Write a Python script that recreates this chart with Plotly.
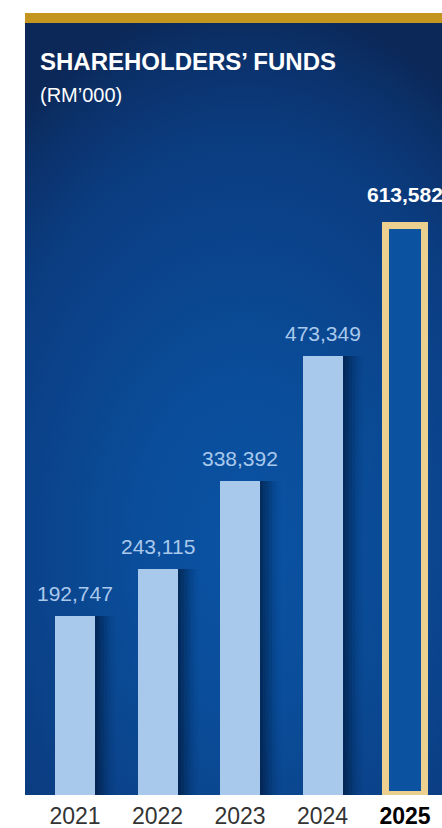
import plotly.graph_objects as go

# Shareholders' funds, RM'000
years = ["2021", "2022", "2023", "2024", "2025"]
funds = [192747, 243115, 338392, 473349, 613582]

title_text = "SHAREHOLDERS\u2019 FUNDS"
unit_text = "(RM\u2019000)"

# ---- layout geometry (pixels) ----
W, H = 442, 828
M_L, M_R, M_T, M_B = 25, 0, 23, 33
PLOT_W = W - M_L - M_R
PLOT_H = H - M_T - M_B
STEP_PX = 82.5            # distance between bar centres
FIRST_PX = 75             # centre of first bar
X0 = -(FIRST_PX - M_L) / STEP_PX
X1 = X0 + PLOT_W / STEP_PX
Y_MAX = 832000

pos = list(range(len(years)))
last = len(years) - 1
bar_w = 40 / STEP_PX
FONT = "Liberation Sans, Arial, sans-serif"


def px_x(px):
    return X0 + (px - M_L) / STEP_PX


def px_y(py):
    return (M_T + PLOT_H - py) * Y_MAX / PLOT_H


fig = go.Figure()

# radial backdrop of the panel (base subplot, drawn underneath)
cx, cy = 245, 545
hx, hy = 370, 545
bx = [px_x(cx - hx), px_x(cx + hx), px_x(cx + hx), px_x(cx - hx), px_x(cx - hx)]
by = [px_y(cy - hy), px_y(cy - hy), px_y(cy + hy), px_y(cy + hy), px_y(cy - hy)]
fig.add_trace(go.Scatter(
    x=bx, y=by, mode="lines", line=dict(width=0), fill="toself",
    fillgradient=dict(
        type="radial",
        colorscale=[[0.0, "#0a53a4"], [0.3, "#0a4d9a"], [0.55, "#0b448c"],
                    [0.75, "#0b3c80"], [0.92, "#0b3068"], [1.0, "#0b2858"]],
    ),
    hoverinfo="skip", showlegend=False, xaxis="x", yaxis="y",
))

# soft drop shadows to the right of the bars
hist_pos = pos[:last]
hist_val = funds[:last]
for k, alpha in enumerate([0.20, 0.17, 0.14, 0.11, 0.08, 0.05, 0.03]):
    shift = (3 + 3 * k) / STEP_PX
    fig.add_trace(go.Bar(
        x=hist_pos, y=hist_val, width=bar_w,
        offset=-bar_w / 2 + shift,
        marker=dict(color=f"rgba(4,22,50,{alpha})", line=dict(width=0)),
        hoverinfo="skip", showlegend=False, xaxis="x2", yaxis="y2",
    ))

# bars
fig.add_trace(go.Bar(
    x=hist_pos, y=hist_val, width=bar_w,
    marker=dict(color="#a9c9ec", line=dict(width=0)),
    hoverinfo="skip", showlegend=False, xaxis="x2", yaxis="y2",
))
fig.add_trace(go.Bar(
    x=[pos[last]], y=[funds[last]], width=39 / STEP_PX,
    marker=dict(color="#0b52a0", line=dict(color="#ecd08f", width=7)),
    hoverinfo="skip", showlegend=False, xaxis="x2", yaxis="y2",
))

# value labels
for i, v in enumerate(funds):
    is_last = i == last
    fig.add_annotation(
        x=pos[i], y=v, xref="x2", yref="y2",
        text=(f"<b>{v:,}</b>" if is_last else f"{v:,}"),
        showarrow=False, xanchor="center", yanchor="bottom",
        yshift=18 if is_last else 9,
        font=dict(family=FONT, size=21,
                  color="#ffffff" if is_last else "#a9c9ec"),
    )

# title block
fig.add_annotation(
    x=(38 - M_L) / PLOT_W, y=(M_T + PLOT_H - 62) / PLOT_H, xref="paper", yref="paper",
    text=f"<b>{title_text}</b>", showarrow=False, xanchor="left", yanchor="middle",
    font=dict(family=FONT, size=24, color="#ffffff"),
)
fig.add_annotation(
    x=(38 - M_L) / PLOT_W, y=(M_T + PLOT_H - 95) / PLOT_H, xref="paper", yref="paper",
    text=unit_text, showarrow=False, xanchor="left", yanchor="middle",
    font=dict(family=FONT, size=20, color="#ffffff"),
)

# gold rule on top of the panel
fig.add_shape(type="rect", xref="paper", yref="paper",
              x0=0, x1=1, y0=1, y1=1 + 10 / PLOT_H,
              fillcolor="#c4951f", line=dict(width=0), layer="above")

ticktext = [f"<b><span style='color:#000'>{y}</span></b>" if i == last else y
            for i, y in enumerate(years)]

hidden = dict(showgrid=False, zeroline=False, showline=False,
              showticklabels=False, ticks="", fixedrange=True, automargin=False)

fig.update_layout(
    width=W, height=H,
    margin=dict(l=M_L, r=M_R, t=M_T, b=M_B, pad=0, autoexpand=False),
    paper_bgcolor="#ffffff", plot_bgcolor="#0b3c7f",
    barmode="overlay", bargap=0,
    xaxis=dict(range=[X0, X1], **hidden),
    yaxis=dict(range=[0, Y_MAX], **hidden),
    xaxis2=dict(range=[X0, X1], overlaying="x", tickvals=pos, ticktext=ticktext,
                showgrid=False, zeroline=False, showline=False, ticks="",
                ticklabelstandoff=5, automargin=False,
                tickfont=dict(family=FONT, size=23, color="#333333"),
                fixedrange=True, anchor="y2", side="bottom"),
    yaxis2=dict(range=[0, Y_MAX], overlaying="y", anchor="x2", **hidden),
    showlegend=False,
)

fig.write_html("out.html", config={"displayModeBar": False})
